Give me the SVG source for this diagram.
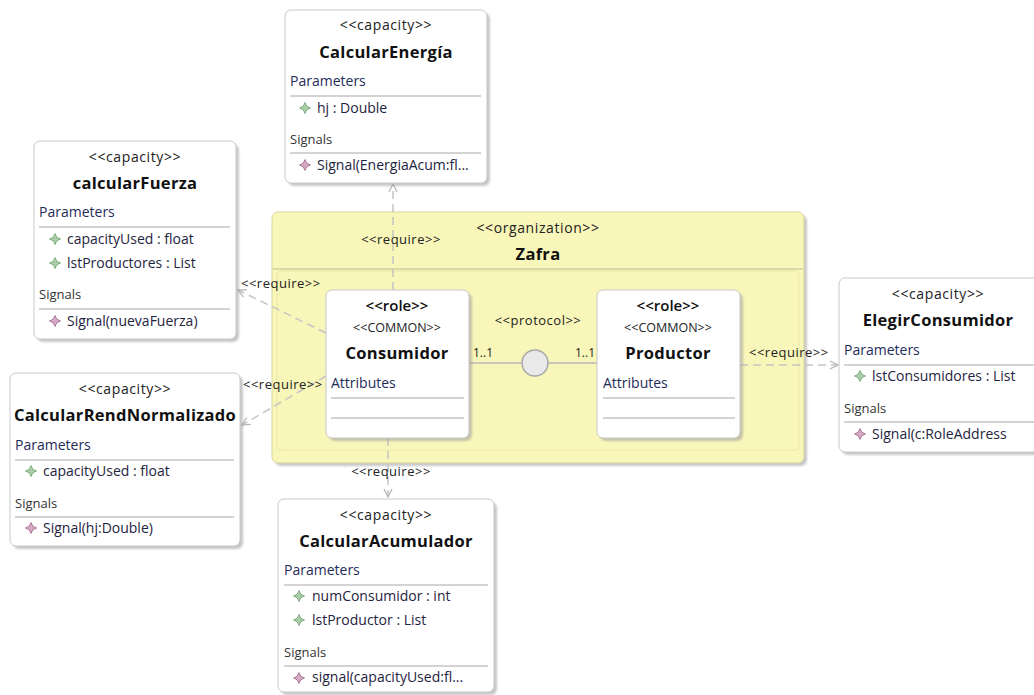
<svg xmlns="http://www.w3.org/2000/svg" width="1034" height="695" viewBox="0 0 1034 695">
  <style>
    text { font-family: "Open Sans", "Noto Sans", "DejaVu Sans", sans-serif; }
    .bg { fill: #ffffff; }
    .box { fill: #ffffff; stroke: #c9c9c9; stroke-width: 1; }
    .shadow { fill: #9a9a9a; opacity: 0.55; filter: url(#soft); }
    .org { fill: #f9f6b9; stroke: #d9d6a0; stroke-width: 1; }
    .orgInner { fill: none; stroke: #ebe7a9; stroke-width: 1; }
    .sep { stroke: #a8a8a8; stroke-width: 1; }
    .orgSep { stroke: #bdbb94; stroke-width: 1; }
    .stereo { font-size: 14px; letter-spacing: 0.6px; fill: #222222; text-anchor: middle; }
    .title { font-size: 16.5px; letter-spacing: 0.3px; font-weight: bold; fill: #111111; text-anchor: middle; }
    .section { font-size: 14px; fill: #1e2c5a; }
    .signals { font-size: 13px; fill: #333333; }
    .item { font-size: 14px; fill: #1e2440; }
    .role { font-size: 15px; font-weight: 600; fill: #111111; text-anchor: middle; }
    .common { font-size: 12.5px; fill: #222222; text-anchor: middle; }
    .label { font-size: 13px; letter-spacing: 0.5px; fill: #222222; }
    .mult { font-size: 12px; fill: #222222; }
    .dep { stroke: #c4c4c4; stroke-width: 1.5; stroke-dasharray: 8 5; fill: none; marker-end: url(#open); }
    .assoc { stroke: #b8b8b8; stroke-width: 1.5; fill: none; }
    .param { fill: #a9cfa9; stroke: #6f9f6f; stroke-width: 0.8; }
    .sig { fill: #d7a9c6; stroke: #9a6685; stroke-width: 0.8; }
  </style>
  <defs>
    <filter id="soft" x="-5%" y="-5%" width="110%" height="110%">
      <feGaussianBlur stdDeviation="1.2"/>
    </filter>
    <marker id="open" viewBox="0 0 10 10" refX="9" refY="5" markerWidth="10" markerHeight="10" markerUnits="userSpaceOnUse" orient="auto">
      <path d="M1,1 L9,5 L1,9" fill="none" stroke="#b8b8b8" stroke-width="1.3"/>
    </marker>
    <path id="star" d="M0,-5.5 L1.8,-1.8 L5.5,0 L1.8,1.8 L0,5.5 L-1.8,1.8 L-5.5,0 L-1.8,-1.8 Z"/>
  </defs>

  <rect class="bg" x="0" y="0" width="1034" height="695"/>

  <!-- organization Zafra -->
  <g id="zafra">
    <rect class="shadow" x="275" y="215" width="532" height="251" rx="6"/>
    <rect class="org" x="272" y="212" width="532" height="251" rx="6"/>
    <text class="stereo" x="538" y="233">&lt;&lt;organization&gt;&gt;</text>
    <text class="title" x="538" y="260">Zafra</text>
    <line class="orgSep" x1="273" y1="269" x2="803" y2="269"/>
    <rect class="orgInner" x="277" y="271" width="522" height="179" rx="4"/>
  </g>

  <!-- connectors -->
  <g id="connectors">
    <line class="dep" x1="393" y1="290" x2="393" y2="184"/>
    <line class="dep" x1="326" y1="333" x2="238" y2="290"/>
    <line class="dep" x1="326" y1="376" x2="242" y2="425"/>
    <line class="dep" x1="388" y1="438" x2="388" y2="497"/>
    <line class="dep" x1="740" y1="365" x2="838" y2="365"/>
    <line class="assoc" x1="469" y1="363" x2="597" y2="363"/>
    <circle cx="535" cy="363" r="13" fill="#e9e9e9" stroke="#a8a8a8" stroke-width="1.5"/>
    <text class="label" x="401" y="244" text-anchor="middle">&lt;&lt;require&gt;&gt;</text>
    <text class="label" x="241" y="288">&lt;&lt;require&gt;&gt;</text>
    <text class="label" x="243" y="389">&lt;&lt;require&gt;&gt;</text>
    <text class="label" x="391" y="476" text-anchor="middle">&lt;&lt;require&gt;&gt;</text>
    <text class="label" x="749" y="357">&lt;&lt;require&gt;&gt;</text>
    <text class="label" x="538" y="325" text-anchor="middle">&lt;&lt;protocol&gt;&gt;</text>
    <text class="mult" x="473" y="357">1..1</text>
    <text class="mult" x="595" y="357" text-anchor="end">1..1</text>
  </g>

  <!-- role Consumidor -->
  <g id="consumidor">
    <rect class="shadow" x="329" y="293" width="143" height="148" rx="6"/>
    <rect class="box" x="326" y="290" width="143" height="148" rx="6"/>
    <text class="role" x="397" y="311">&lt;&lt;role&gt;&gt;</text>
    <text class="common" x="397" y="332">&lt;&lt;COMMON&gt;&gt;</text>
    <text class="title" x="397" y="359">Consumidor</text>
    <text class="section" x="331" y="388">Attributes</text>
    <line class="sep" x1="331" y1="398" x2="464" y2="398"/>
    <line class="sep" x1="331" y1="418" x2="464" y2="418"/>
  </g>

  <!-- role Productor -->
  <g id="productor">
    <rect class="shadow" x="600" y="293" width="143" height="148" rx="6"/>
    <rect class="box" x="597" y="290" width="143" height="148" rx="6"/>
    <text class="role" x="668" y="311">&lt;&lt;role&gt;&gt;</text>
    <text class="common" x="668" y="332">&lt;&lt;COMMON&gt;&gt;</text>
    <text class="title" x="668" y="359">Productor</text>
    <text class="section" x="603" y="388">Attributes</text>
    <line class="sep" x1="603" y1="398" x2="735" y2="398"/>
    <line class="sep" x1="603" y1="418" x2="735" y2="418"/>
  </g>

  <!-- capacity CalcularEnergía -->
  <g id="calcularEnergia">
    <rect class="shadow" x="288" y="13" width="202" height="173" rx="6"/>
    <rect class="box" x="285" y="10" width="202" height="173" rx="6"/>
    <text class="stereo" x="386" y="30">&lt;&lt;capacity&gt;&gt;</text>
    <text class="title" x="386" y="58">CalcularEnergía</text>
    <text class="section" x="290" y="86">Parameters</text>
    <line class="sep" x1="290" y1="96" x2="481" y2="96"/>
    <use href="#star" class="param" x="305" y="108"/>
    <text class="item" x="317" y="113">hj : Double</text>
    <text class="signals" x="290" y="144">Signals</text>
    <line class="sep" x1="290" y1="153" x2="481" y2="153"/>
    <use href="#star" class="sig" x="305" y="165"/>
    <text class="item" x="317" y="170">Signal(EnergiaAcum:fl...</text>
  </g>

  <!-- capacity calcularFuerza -->
  <g id="calcularFuerza">
    <rect class="shadow" x="37" y="144" width="202" height="198" rx="6"/>
    <rect class="box" x="34" y="141" width="202" height="198" rx="6"/>
    <text class="stereo" x="135" y="162">&lt;&lt;capacity&gt;&gt;</text>
    <text class="title" x="135" y="189">calcularFuerza</text>
    <text class="section" x="39" y="217">Parameters</text>
    <line class="sep" x1="39" y1="227" x2="230" y2="227"/>
    <use href="#star" class="param" x="55" y="239"/>
    <text class="item" x="67" y="244">capacityUsed : float</text>
    <use href="#star" class="param" x="55" y="263"/>
    <text class="item" x="67" y="268">lstProductores : List</text>
    <text class="signals" x="39" y="299">Signals</text>
    <line class="sep" x1="39" y1="309" x2="230" y2="309"/>
    <use href="#star" class="sig" x="55" y="321"/>
    <text class="item" x="67" y="326">Signal(nuevaFuerza)</text>
  </g>

  <!-- capacity CalcularRendNormalizado -->
  <g id="calcularRendNormalizado">
    <rect class="shadow" x="13" y="376" width="230" height="173" rx="6"/>
    <rect class="box" x="10" y="373" width="230" height="173" rx="6"/>
    <text class="stereo" x="125" y="394">&lt;&lt;capacity&gt;&gt;</text>
    <text class="title" x="125" y="421">CalcularRendNormalizado</text>
    <text class="section" x="15" y="450">Parameters</text>
    <line class="sep" x1="15" y1="460" x2="234" y2="460"/>
    <use href="#star" class="param" x="31" y="471"/>
    <text class="item" x="43" y="476">capacityUsed : float</text>
    <text class="signals" x="15" y="508">Signals</text>
    <line class="sep" x1="15" y1="517" x2="234" y2="517"/>
    <use href="#star" class="sig" x="31" y="528"/>
    <text class="item" x="43" y="533">Signal(hj:Double)</text>
  </g>

  <!-- capacity ElegirConsumidor -->
  <g id="elegirConsumidor">
    <rect class="shadow" x="842" y="281" width="200" height="174" rx="6"/>
    <rect class="box" x="839" y="278" width="200" height="174" rx="6"/>
    <text class="stereo" x="938" y="299">&lt;&lt;capacity&gt;&gt;</text>
    <text class="title" x="938" y="326">ElegirConsumidor</text>
    <text class="section" x="844" y="355">Parameters</text>
    <line class="sep" x1="844" y1="365" x2="1034" y2="365"/>
    <use href="#star" class="param" x="860" y="376"/>
    <text class="item" x="872" y="381">lstConsumidores : List</text>
    <text class="signals" x="844" y="413">Signals</text>
    <line class="sep" x1="844" y1="422" x2="1034" y2="422"/>
    <use href="#star" class="sig" x="860" y="434"/>
    <text class="item" x="872" y="439">Signal(c:RoleAddress</text>
  </g>

  <!-- capacity CalcularAcumulador -->
  <g id="calcularAcumulador">
    <rect class="shadow" x="281" y="502" width="216" height="193" rx="6"/>
    <rect class="box" x="278" y="499" width="216" height="193" rx="6"/>
    <text class="stereo" x="386" y="520">&lt;&lt;capacity&gt;&gt;</text>
    <text class="title" x="386" y="547">CalcularAcumulador</text>
    <text class="section" x="284" y="575">Parameters</text>
    <line class="sep" x1="284" y1="585" x2="488" y2="585"/>
    <use href="#star" class="param" x="299" y="596"/>
    <text class="item" x="312" y="601">numConsumidor : int</text>
    <use href="#star" class="param" x="299" y="620"/>
    <text class="item" x="312" y="625">lstProductor : List</text>
    <text class="signals" x="284" y="657">Signals</text>
    <line class="sep" x1="284" y1="666" x2="488" y2="666"/>
    <use href="#star" class="sig" x="299" y="678"/>
    <text class="item" x="312" y="682">signal(capacityUsed:fl...</text>
  </g>
</svg>
